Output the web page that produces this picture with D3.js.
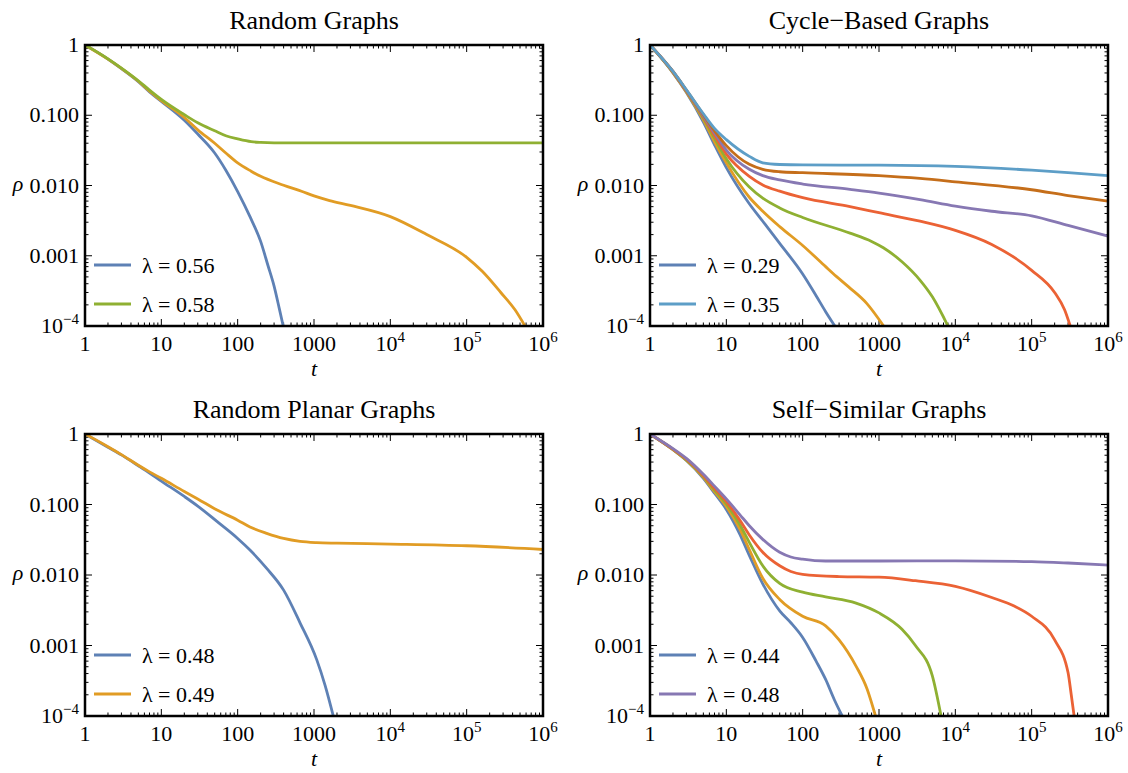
<!DOCTYPE html>
<html>
<head>
<meta charset="utf-8">
<script src="https://cdn.jsdelivr.net/npm/d3@7"></script>
<style>
  body { margin: 0; background: #fff; }
  svg text { font-family: "Liberation Serif", "Times New Roman", serif; fill: #000; }
</style>
</head>
<body>
<svg id="chart" width="1128" height="773"></svg>
<script>
// tick labels: [base, exponent]
const xTicks = [1, 10, 100, 1000, 1e4, 1e5, 1e6];
const xTickLabels = [["1"], ["10"], ["100"], ["1000"], ["10", "4"], ["10", "5"], ["10", "6"]];
const yTicks = [1, 0.1, 0.01, 0.001, 1e-4];
const yTickLabels = [["1"], ["0.100"], ["0.010"], ["0.001"], ["10", "\u22124"]];

const titles = ["Random Graphs", "Cycle\u2212Based Graphs", "Random Planar Graphs", "Self\u2212Similar Graphs"];

// Random Graphs, lambda = 0.56 / 0.57 / 0.58  ([t, rho])
const random056 = [[1,1],[2,0.63],[3,0.46],[5,0.3],[7,0.215],[10,0.158],[20,0.085],[30,0.054],[50,0.029],[70,0.0165],[100,0.0082],[145,0.0036],[200,0.0016],[250,0.00072],[300,0.00037],[350,0.00018],[395,0.0001]];
const random057 = [[1,1],[2,0.63],[3,0.465],[5,0.305],[7,0.22],[10,0.162],[20,0.093],[30,0.062],[50,0.04],[70,0.029],[100,0.021],[150,0.016],[200,0.0135],[400,0.0101],[700,0.0082],[1000,0.0071],[1600,0.0061],[3000,0.0052],[1e4,0.0036],[3e4,0.002],[1e5,0.00095],[1.6e5,0.0006],[2.8e5,0.0003],[4.3e5,0.00017],[5.8e5,0.0001]];
const random058 = [[1,1],[2,0.635],[3,0.47],[5,0.31],[7,0.228],[10,0.168],[20,0.102],[30,0.078],[50,0.06],[70,0.051],[100,0.046],[150,0.042],[200,0.041],[300,0.0405],[1e4,0.0405],[1e6,0.0405]];

// Cycle-Based Graphs, lambda = 0.29 ... 0.35
const cycle029 = [[1,1],[2,0.4],[3,0.21],[5,0.08],[7,0.038],[10,0.018],[20,0.0055],[30,0.0031],[50,0.0015],[100,0.00055],[150,0.00027],[200,0.00016],[264,0.0001]];
const cycle030 = [[1,1],[2,0.405],[3,0.215],[5,0.086],[7,0.042],[10,0.021],[20,0.0068],[30,0.0043],[50,0.0026],[100,0.0014],[200,0.0007],[250,0.00056],[400,0.00036],[690,0.00021],[1150,0.0001]];
const cycle031 = [[1,1],[2,0.41],[3,0.22],[5,0.091],[7,0.047],[10,0.024],[20,0.0095],[30,0.0066],[50,0.0048],[100,0.0035],[417,0.0021],[800,0.0016],[1140,0.0013],[2000,0.00082],[3440,0.00045],[5000,0.00026],[8000,0.0001]];
const cycle032 = [[1,1],[2,0.415],[3,0.222],[5,0.095],[7,0.051],[10,0.028],[20,0.0135],[30,0.0102],[50,0.0083],[100,0.0067],[417,0.005],[1000,0.0041],[3440,0.0031],[1e4,0.0023],[3e4,0.00145],[1e5,0.00062],[2e5,0.0003],[2.7e5,0.00017],[3.2e5,0.0001]];
const cycle033 = [[1,1],[2,0.42],[3,0.225],[5,0.098],[7,0.056],[10,0.032],[20,0.017],[30,0.0138],[50,0.012],[100,0.0105],[417,0.0088],[1000,0.0078],[3440,0.0063],[1e4,0.0051],[3e4,0.0043],[1e5,0.0037],[3e5,0.0027],[1e6,0.0019]];
const cycle034 = [[1,1],[2,0.42],[3,0.228],[5,0.102],[7,0.06],[10,0.037],[20,0.02],[30,0.017],[50,0.0157],[100,0.0152],[1000,0.0138],[3440,0.0126],[1e4,0.0113],[1e5,0.0087],[3e5,0.0072],[1e6,0.006]];
const cycle035 = [[1,1],[2,0.42],[3,0.23],[5,0.105],[7,0.065],[10,0.045],[20,0.026],[30,0.021],[50,0.0199],[100,0.0196],[1000,0.0195],[1e4,0.0187],[1e5,0.0165],[3e5,0.0152],[1e6,0.0138]];

// Random Planar Graphs, lambda = 0.48 / 0.49
const planar048 = [[1,1],[2,0.65],[3,0.505],[5,0.355],[7,0.28],[10,0.215],[20,0.13],[30,0.095],[53,0.058],[100,0.033],[145,0.0226],[240,0.0124],[400,0.0061],[656,0.0021],[1085,0.00063],[1400,0.00027],[1790,0.0001]];
const planar049 = [[1,1],[2,0.66],[3,0.51],[5,0.36],[7,0.29],[10,0.235],[20,0.153],[30,0.12],[53,0.084],[100,0.06],[145,0.048],[240,0.039],[400,0.033],[656,0.03],[1085,0.0288],[2000,0.0283],[1e4,0.0275],[1e5,0.026],[1e6,0.023]];

// Self-Similar Graphs, lambda = 0.44 ... 0.48
const selfsim044 = [[1,1],[2,0.6],[3,0.42],[5,0.235],[7,0.145],[10,0.085],[15,0.038],[20,0.019],[30,0.0075],[50,0.0031],[70,0.0021],[100,0.0013],[150,0.0006],[200,0.00033],[260,0.00017],[330,0.0001]];
const selfsim045 = [[1,1],[2,0.6],[3,0.425],[5,0.243],[7,0.152],[10,0.094],[15,0.045],[20,0.023],[30,0.009],[50,0.0045],[100,0.0026],[200,0.0019],[300,0.0012],[500,0.00051],[700,0.00024],[900,0.0001]];
const selfsim046 = [[1,1],[2,0.605],[3,0.43],[5,0.25],[7,0.16],[10,0.102],[15,0.052],[20,0.029],[30,0.0135],[50,0.0076],[100,0.0057],[200,0.0049],[500,0.004],[1000,0.0029],[2000,0.0017],[3000,0.001],[5000,0.00037],[6500,0.0001]];
const selfsim047 = [[1,1],[2,0.61],[3,0.44],[5,0.258],[7,0.17],[10,0.11],[15,0.06],[20,0.037],[30,0.021],[50,0.0135],[70,0.0112],[100,0.0102],[300,0.0095],[1000,0.0093],[3000,0.0083],[1e4,0.0069],[3e4,0.0048],[6e4,0.0036],[1e5,0.0026],[2e5,0.0012],[3e5,0.00041],[3.3e5,0.0002],[3.6e5,0.0001]];
const selfsim048 = [[1,1],[2,0.62],[3,0.45],[5,0.268],[7,0.182],[10,0.12],[15,0.072],[20,0.05],[30,0.032],[50,0.021],[70,0.018],[100,0.0168],[200,0.0158],[1000,0.0158],[1e4,0.0159],[1e5,0.0155],[3e5,0.0148],[1e6,0.0138]];

const colors = {
  blue: "#5e81b5", orange: "#e19c24", green: "#8fb032", red: "#eb6235",
  purple: "#8778b3", darkOrange: "#c56e1a", lightBlue: "#5d9ec7"
};

const panels = [
  { title: titles[0], left: 85, top: 45, height: 281,
    series: [
      { lambda: "0.56", color: colors.blue, data: random056 },
      { lambda: "0.57", color: colors.orange, data: random057 },
      { lambda: "0.58", color: colors.green, data: random058 }
    ] },
  { title: titles[1], left: 650, top: 45, height: 281,
    series: [
      { lambda: "0.29", color: colors.blue, data: cycle029 },
      { lambda: "0.30", color: colors.orange, data: cycle030 },
      { lambda: "0.31", color: colors.green, data: cycle031 },
      { lambda: "0.32", color: colors.red, data: cycle032 },
      { lambda: "0.33", color: colors.purple, data: cycle033 },
      { lambda: "0.34", color: colors.darkOrange, data: cycle034 },
      { lambda: "0.35", color: colors.lightBlue, data: cycle035 }
    ] },
  { title: titles[2], left: 85, top: 434, height: 282,
    series: [
      { lambda: "0.48", color: colors.blue, data: planar048 },
      { lambda: "0.49", color: colors.orange, data: planar049 }
    ] },
  { title: titles[3], left: 650, top: 434, height: 282,
    series: [
      { lambda: "0.44", color: colors.blue, data: selfsim044 },
      { lambda: "0.45", color: colors.orange, data: selfsim045 },
      { lambda: "0.46", color: colors.green, data: selfsim046 },
      { lambda: "0.47", color: colors.red, data: selfsim047 },
      { lambda: "0.48", color: colors.purple, data: selfsim048 }
    ] }
];

const panelWidth = 458;
const tickFont = 22;
const serifFont = "'Liberation Serif', 'Times New Roman', serif";
const greekFont = "'Liberation Serif', 'DejaVu Serif', serif";

const svg = d3.select("#chart");

function addLabel(sel, parts) {
  sel.text(parts[0]);
  if (parts.length > 1) {
    sel.append("tspan")
      .attr("dy", -9)
      .style("font-size", "15px")
      .text(parts[1]);
  }
}

function minorValues(lo, hi) {
  const out = [];
  for (let k = lo; k < hi; k++) {
    for (let m = 2; m <= 9; m++) out.push(m * Math.pow(10, k));
  }
  return out;
}

function drawPanel(p, idx) {
  const w = panelWidth;
  const h = p.height;

  const x = d3.scaleLog().domain([1, 1e6]).range([0, w]);
  const y = d3.scaleLog().domain([1e-4, 1]).range([h, 0]);

  const g = svg.append("g").attr("transform", `translate(${p.left},${p.top})`);

  g.append("clipPath")
    .attr("id", "clip" + idx)
    .append("rect")
    .attr("width", w)
    .attr("height", h);

  // ticks on all four sides, pointing inwards
  const xMinor = minorValues(0, 6);
  const yMinor = minorValues(-4, 0);
  const ticks = g.append("g").attr("stroke", "#000").attr("stroke-width", 1);

  xTicks.forEach(function (v) {
    ticks.append("line").attr("x1", x(v)).attr("x2", x(v)).attr("y1", h).attr("y2", h - 7);
    ticks.append("line").attr("x1", x(v)).attr("x2", x(v)).attr("y1", 0).attr("y2", 7);
  });
  xMinor.forEach(function (v) {
    ticks.append("line").attr("x1", x(v)).attr("x2", x(v)).attr("y1", h).attr("y2", h - 3.5);
    ticks.append("line").attr("x1", x(v)).attr("x2", x(v)).attr("y1", 0).attr("y2", 3.5);
  });
  yTicks.forEach(function (v) {
    ticks.append("line").attr("y1", y(v)).attr("y2", y(v)).attr("x1", 0).attr("x2", 7);
    ticks.append("line").attr("y1", y(v)).attr("y2", y(v)).attr("x1", w).attr("x2", w - 7);
  });
  yMinor.forEach(function (v) {
    ticks.append("line").attr("y1", y(v)).attr("y2", y(v)).attr("x1", 0).attr("x2", 3.5);
    ticks.append("line").attr("y1", y(v)).attr("y2", y(v)).attr("x1", w).attr("x2", w - 3.5);
  });

  const line = d3.line()
    .x(function (d) { return x(d[0]); })
    .y(function (d) { return y(d[1]); })
    .curve(d3.curveMonotoneX);

  g.append("g")
    .attr("clip-path", `url(#clip${idx})`)
    .selectAll("path")
    .data(p.series)
    .enter()
    .append("path")
    .attr("d", function (s) { return line(s.data); })
    .attr("fill", "none")
    .attr("stroke", function (s) { return s.color; })
    .attr("stroke-width", 2.8)
    .attr("stroke-linejoin", "round");

  // frame
  g.append("rect")
    .attr("width", w)
    .attr("height", h)
    .attr("fill", "none")
    .attr("stroke", "#000")
    .attr("stroke-width", 2.5);

  // tick labels
  xTicks.forEach(function (v, i) {
    addLabel(
      g.append("text")
        .attr("x", x(v))
        .attr("y", h + 25)
        .attr("text-anchor", "middle")
        .style("font-family", serifFont)
        .style("font-size", tickFont + "px"),
      xTickLabels[i]
    );
  });
  yTicks.forEach(function (v, i) {
    addLabel(
      g.append("text")
        .attr("x", -6)
        .attr("y", y(v) + 7)
        .attr("text-anchor", "end")
        .style("font-family", serifFont)
        .style("font-size", tickFont + "px"),
      yTickLabels[i]
    );
  });

  // axis labels
  g.append("text")
    .attr("x", w / 2)
    .attr("y", h + 50)
    .attr("text-anchor", "middle")
    .style("font-family", serifFont)
    .style("font-size", "22px")
    .style("font-style", "italic")
    .text("t");

  g.append("text")
    .attr("x", -67)
    .attr("y", h / 2 + 5)
    .attr("text-anchor", "middle")
    .style("font-size", "22px")
    .style("font-style", "italic")
    .style("font-family", greekFont)
    .text("\u03c1");

  // title
  g.append("text")
    .attr("x", w / 2)
    .attr("y", -16)
    .attr("text-anchor", "middle")
    .style("font-family", serifFont)
    .style("font-size", "26px")
    .text(p.title);

  // legend: first and last series
  const legendItems = [p.series[0], p.series[p.series.length - 1]];
  legendItems.forEach(function (s, i) {
    const ly = h - 61 + i * 39;
    g.append("line")
      .attr("x1", 9).attr("x2", 46)
      .attr("y1", ly).attr("y2", ly)
      .attr("stroke", s.color)
      .attr("stroke-width", 2.8);
    g.append("text")
      .attr("x", 57)
      .attr("y", ly + 8)
      .style("font-size", "22px")
      .style("font-family", greekFont)
      .text("\u03bb");
    g.append("text")
      .attr("x", 73)
      .attr("y", ly + 8)
      .style("font-family", serifFont)
      .style("font-size", "22px")
      .text("= " + s.lambda);
  });
}

panels.forEach(drawPanel);
</script>
</body>
</html>
